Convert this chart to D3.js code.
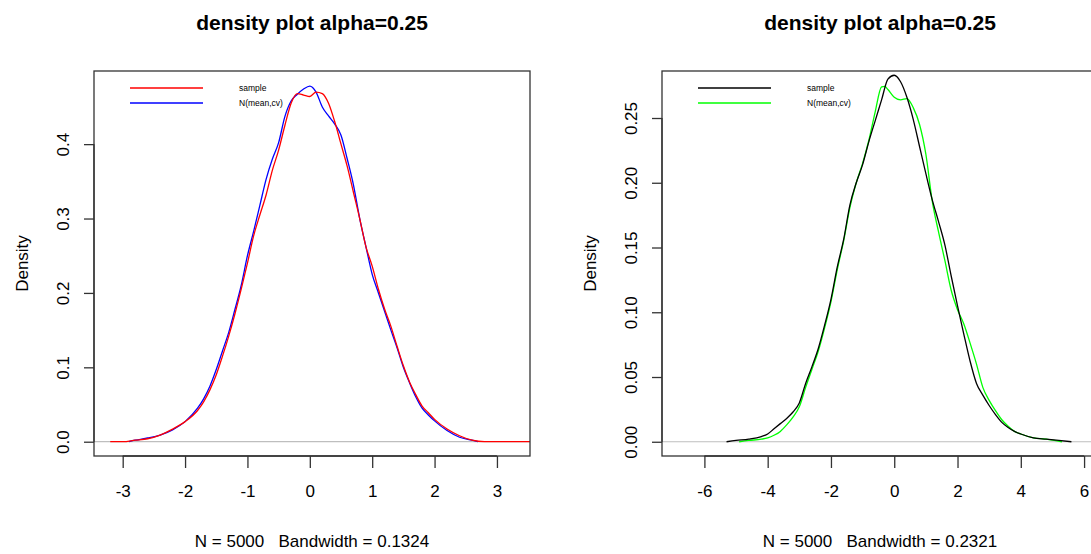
<!DOCTYPE html>
<html>
<head>
<meta charset="utf-8">
<script src="https://cdn.jsdelivr.net/npm/d3@7"></script>
<style>
  html, body { margin: 0; padding: 0; background: #fff; }
  svg { display: block; }
  text { font-family: "Liberation Sans", Arial, sans-serif; fill: #000; }
</style>
</head>
<body>
<svg id="chart" width="1091" height="554"></svg>
<script>
// ---- density estimates, [x, density] ----
const leftSample = [
  [-3.2,0.000],[-3.0,0.000],[-2.8,0.002],[-2.6,0.004],[-2.4,0.009],[-2.2,0.017],[-2.0,0.027],
  [-1.8,0.042],[-1.7,0.054],[-1.6,0.070],[-1.5,0.090],[-1.4,0.115],[-1.3,0.142],[-1.2,0.172],
  [-1.1,0.205],[-1.0,0.240],[-0.9,0.277],[-0.8,0.305],[-0.7,0.332],[-0.6,0.365],[-0.5,0.392],
  [-0.4,0.425],[-0.3,0.455],[-0.2,0.468],[-0.1,0.466],[0.0,0.464],[0.1,0.470],[0.2,0.468],
  [0.3,0.455],[0.4,0.430],[0.5,0.400],[0.6,0.370],[0.7,0.335],[0.8,0.300],[0.9,0.262],
  [1.0,0.236],[1.1,0.205],[1.2,0.178],[1.3,0.155],[1.4,0.128],[1.5,0.102],[1.6,0.080],
  [1.7,0.063],[1.8,0.048],[1.9,0.039],[2.0,0.030],[2.2,0.017],[2.4,0.008],[2.6,0.002],
  [2.8,0.000],[3.6,0.000]
];
const leftNormal = [
  [-2.9,0.000],[-2.8,0.002],[-2.6,0.005],[-2.4,0.009],[-2.2,0.016],[-2.0,0.027],[-1.8,0.045],
  [-1.7,0.058],[-1.6,0.075],[-1.5,0.097],[-1.4,0.122],[-1.3,0.147],[-1.2,0.178],[-1.1,0.210],
  [-1.0,0.250],[-0.9,0.283],[-0.8,0.318],[-0.7,0.353],[-0.6,0.380],[-0.5,0.402],[-0.4,0.437],
  [-0.3,0.458],[-0.2,0.467],[-0.1,0.474],[0.0,0.478],[0.1,0.470],[0.2,0.450],[0.3,0.438],
  [0.4,0.427],[0.5,0.412],[0.6,0.380],[0.7,0.345],[0.8,0.300],[0.9,0.262],[1.0,0.225],
  [1.1,0.200],[1.2,0.175],[1.3,0.150],[1.4,0.126],[1.5,0.100],[1.6,0.079],[1.7,0.060],
  [1.8,0.045],[1.9,0.036],[2.0,0.028],[2.2,0.015],[2.4,0.006],[2.6,0.002],[2.7,0.000]
];
const rightSample = [
  [-5.3,0.000],[-5.0,0.001],[-4.6,0.002],[-4.2,0.004],[-4.0,0.006],[-3.8,0.010],[-3.6,0.014],
  [-3.4,0.018],[-3.2,0.023],[-3.0,0.030],[-2.8,0.045],[-2.6,0.058],[-2.4,0.072],[-2.2,0.090],
  [-2.0,0.110],[-1.8,0.135],[-1.6,0.156],[-1.4,0.183],[-1.2,0.200],[-1.0,0.214],[-0.8,0.232],
  [-0.6,0.248],[-0.4,0.264],[-0.2,0.280],[0.0,0.283],[0.2,0.278],[0.4,0.266],[0.6,0.249],
  [0.8,0.228],[1.0,0.207],[1.2,0.187],[1.4,0.170],[1.6,0.152],[1.8,0.128],[2.0,0.105],
  [2.2,0.083],[2.4,0.062],[2.6,0.045],[2.8,0.036],[3.0,0.028],[3.2,0.021],[3.4,0.015],
  [3.6,0.011],[3.8,0.008],[4.0,0.006],[4.4,0.003],[4.8,0.002],[5.2,0.001],[5.6,0.000]
];
const rightNormal = [
  [-4.9,0.000],[-4.6,0.001],[-4.2,0.002],[-4.0,0.003],[-3.8,0.005],[-3.6,0.008],[-3.4,0.013],
  [-3.2,0.019],[-3.0,0.027],[-2.8,0.042],[-2.6,0.056],[-2.4,0.070],[-2.2,0.088],[-2.0,0.108],
  [-1.8,0.133],[-1.6,0.155],[-1.4,0.181],[-1.2,0.200],[-1.0,0.215],[-0.8,0.233],[-0.6,0.255],
  [-0.4,0.274],[-0.3,0.2745],[-0.2,0.272],[0.0,0.266],[0.2,0.264],[0.4,0.265],[0.6,0.258],
  [0.8,0.245],[1.0,0.222],[1.2,0.186],[1.4,0.162],[1.6,0.140],[1.8,0.117],[2.0,0.102],
  [2.2,0.091],[2.4,0.076],[2.6,0.060],[2.8,0.042],[3.0,0.032],[3.2,0.024],[3.4,0.017],
  [3.6,0.012],[3.8,0.008],[4.0,0.006],[4.4,0.003],[4.8,0.002],[5.3,0.000]
];

// ---- axis ticks and labels ----
const leftXTicks = [-3, -2, -1, 0, 1, 2, 3];
const leftYTicks = [0.0, 0.1, 0.2, 0.3, 0.4];
const leftYLabels = ["0.0", "0.1", "0.2", "0.3", "0.4"];
const rightXTicks = [-6, -4, -2, 0, 2, 4, 6];
const rightYTicks = [0.00, 0.05, 0.10, 0.15, 0.20, 0.25];
const rightYLabels = ["0.00", "0.05", "0.10", "0.15", "0.20", "0.25"];

const titles = ["density plot alpha=0.25", "density plot alpha=0.25"];
const subtitles = ["N = 5000   Bandwidth = 0.1324", "N = 5000   Bandwidth = 0.2321"];
const legendLabels = ["sample", "N(mean,cv)"];

const panels = [
  {
    box: { x0: 94, x1: 530, y0: 71, y1: 456 },
    xDomain: [-3.46, 3.53], yDomain: [-0.0192, 0.4983],
    xTicks: leftXTicks, yTicks: leftYTicks, yLabels: leftYLabels,
    series: [ { data: leftNormal, color: "#0000ff" }, { data: leftSample, color: "#ff0000" } ],
    legend: [ { label: legendLabels[0], color: "#ff0000" }, { label: legendLabels[1], color: "#0000ff" } ],
    title: titles[0], sub: subtitles[0]
  },
  {
    box: { x0: 662, x1: 1098, y0: 71, y1: 456 },
    xDomain: [-7.34, 6.44], yDomain: [-0.0110, 0.2863],
    xTicks: rightXTicks, yTicks: rightYTicks, yLabels: rightYLabels,
    series: [ { data: rightNormal, color: "#00ff00" }, { data: rightSample, color: "#000000" } ],
    legend: [ { label: legendLabels[0], color: "#000000" }, { label: legendLabels[1], color: "#00ff00" } ],
    title: titles[1], sub: subtitles[1]
  }
];

const svg = d3.select("#chart");

panels.forEach((p, i) => {
  const b = p.box;
  const cx = (b.x0 + b.x1) / 2;
  const cy = (b.y0 + b.y1) / 2;
  const x = d3.scaleLinear().domain(p.xDomain).range([b.x0, b.x1]);
  const y = d3.scaleLinear().domain(p.yDomain).range([b.y1, b.y0]);

  const clipId = "clip" + i;
  svg.append("clipPath").attr("id", clipId)
    .append("rect").attr("x", b.x0).attr("y", b.y0)
    .attr("width", b.x1 - b.x0).attr("height", b.y1 - b.y0);

  const g = svg.append("g");

  // zero reference line
  g.append("line")
    .attr("x1", b.x0).attr("x2", b.x1)
    .attr("y1", y(0)).attr("y2", y(0))
    .attr("stroke", "#bebebe").attr("stroke-width", 1.2);

  // density curves
  const line = d3.line().x(d => x(d[0])).y(d => y(d[1])).curve(d3.curveMonotoneX);
  const curves = g.append("g").attr("clip-path", `url(#${clipId})`);
  p.series.forEach(s => {
    curves.append("path").datum(s.data)
      .attr("d", line)
      .attr("fill", "none")
      .attr("stroke", s.color)
      .attr("stroke-width", 1.3)
      .attr("stroke-linejoin", "round");
  });

  // frame
  g.append("rect")
    .attr("x", b.x0).attr("y", b.y0)
    .attr("width", b.x1 - b.x0).attr("height", b.y1 - b.y0)
    .attr("fill", "none").attr("stroke", "#333").attr("stroke-width", 1.3);

  // x axis (plain hyphen minus signs)
  const xAxis = d3.axisBottom(x).tickValues(p.xTicks).tickSize(12).tickPadding(17)
    .tickFormat(d => String(d));
  const xg = g.append("g").attr("transform", `translate(0,${b.y1})`).call(xAxis);
  xg.select(".domain").attr("d", `M${x(p.xTicks[0])},0H${x(p.xTicks[p.xTicks.length - 1])}`)
    .attr("stroke", "#333").attr("stroke-width", 1.3);
  xg.selectAll(".tick line").attr("stroke", "#333").attr("stroke-width", 1.3);
  xg.selectAll(".tick text")
    .style("font-family", "'Liberation Sans', Arial, sans-serif")
    .style("font-size", "17px").attr("fill", "#111").attr("dy", "0.71em");

  // y axis, labels rotated parallel to the axis
  const yAxis = d3.axisLeft(y).tickValues(p.yTicks).tickSize(10)
    .tickFormat((d, k) => p.yLabels[k]);
  const yg = g.append("g").attr("transform", `translate(${b.x0},0)`).call(yAxis);
  yg.select(".domain").attr("d", `M0,${y(p.yTicks[0])}V${y(p.yTicks[p.yTicks.length - 1])}`)
    .attr("stroke", "#333").attr("stroke-width", 1.3);
  yg.selectAll(".tick line").attr("stroke", "#333").attr("stroke-width", 1.3);
  yg.selectAll(".tick text")
    .attr("x", null).attr("dy", null)
    .attr("transform", "translate(-31,0) rotate(-90)")
    .attr("text-anchor", "middle")
    .attr("dominant-baseline", "central")
    .style("font-family", "'Liberation Sans', Arial, sans-serif")
    .style("font-size", "17px").attr("fill", "#111");

  // title
  svg.append("text")
    .attr("x", cx).attr("y", 30)
    .attr("text-anchor", "middle")
    .attr("font-weight", "bold").attr("font-size", 21)
    .text(p.title);

  // sub-title below the axis
  svg.append("text")
    .attr("x", cx).attr("y", 547)
    .attr("text-anchor", "middle")
    .attr("font-size", 17).attr("fill", "#111")
    .style("white-space", "pre")
    .text(p.sub);

  // y axis title
  svg.append("text")
    .attr("transform", `translate(${b.x0 - 72},${cy}) rotate(-90)`)
    .attr("text-anchor", "middle")
    .attr("dominant-baseline", "central")
    .attr("font-size", 17).attr("fill", "#111")
    .text("Density");

  // legend (no frame)
  const lx0 = b.x0 + 36, lx1 = b.x0 + 109, tx = b.x0 + 145;
  p.legend.forEach((l, k) => {
    const ly = 88 + k * 15;
    svg.append("line")
      .attr("x1", lx0).attr("x2", lx1).attr("y1", ly).attr("y2", ly)
      .attr("stroke", l.color).attr("stroke-width", 1.3);
    svg.append("text")
      .attr("x", tx).attr("y", ly)
      .attr("dominant-baseline", "central")
      .attr("font-size", 8.5).attr("fill", "#333")
      .text(l.label);
  });
});
</script>
</body>
</html>
